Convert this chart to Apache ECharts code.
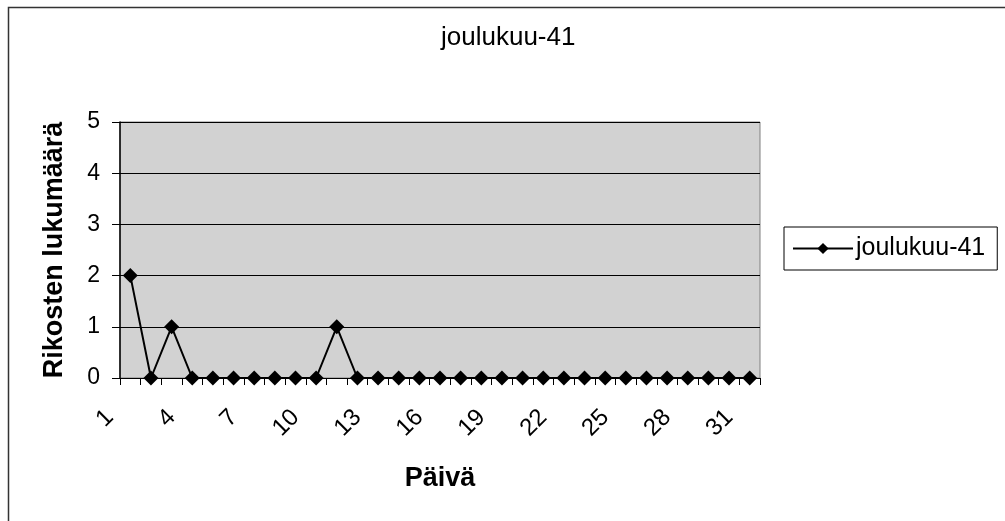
<!DOCTYPE html>
<html>
<head>
<meta charset="utf-8">
<script src="https://cdn.jsdelivr.net/npm/echarts@6/dist/echarts.min.js"></script>
<style>
html, body { margin: 0; padding: 0; background: #fff; }
#chart { width: 1005px; height: 521px; }
</style>
</head>
<body>
<div id="chart"></div>
<script>
// päivät 1..31
var days = ['1','2','3','4','5','6','7','8','9','10','11','12','13','14','15','16',
            '17','18','19','20','21','22','23','24','25','26','27','28','29','30','31'];
// rikosten lukumäärä per päivä
var counts = [2,0,1,0,0,0,0,0,0,0,1,0,0,0,0,0,0,0,0,0,0,0,0,0,0,0,0,0,0,0,0];
var seriesName = 'joulukuu-41';

var font = "'Liberation Sans', Arial, sans-serif";
var myChart = echarts.init(document.getElementById('chart'));

var option = {
    backgroundColor: '#fff',
    animation: false,
    title: {
        text: 'joulukuu-41',
        left: 441,
        top: 25,
        padding: 0,
        textStyle: { fontFamily: font, fontSize: 26, fontWeight: 'normal', color: '#000' }
    },
    graphic: [{
        type: 'rect',
        shape: { x: 8.5, y: 7.5, width: 1100, height: 600 },
        style: { fill: null, stroke: '#333', lineWidth: 1.5 },
        silent: true
    }],
    legend: {
        data: [seriesName],
        left: 784,
        top: 227,
        orient: 'vertical',
        padding: [9, 12, 9, 8],
        itemWidth: 60,
        itemHeight: 14,
        itemGap: 0,
        backgroundColor: '#fff',
        borderColor: '#000',
        borderWidth: 1,
        borderRadius: 0,
        textStyle: { fontFamily: font, fontSize: 25, color: '#000', padding: [0, 0, 0, -2] }
    },
    grid: {
        left: 120,
        right: 245,
        top: 122,
        bottom: 143,
        show: true,
        backgroundColor: '#d2d2d2',
        borderColor: '#808080',
        borderWidth: 1
    },
    xAxis: {
        type: 'category',
        data: days,
        boundaryGap: true,
        name: 'Päivä',
        nameLocation: 'middle',
        nameGap: 87,
        nameTextStyle: { fontFamily: font, fontSize: 27, fontWeight: 'bold', color: '#000' },
        axisLine: { lineStyle: { color: '#000', width: 1 } },
        axisTick: { show: true, interval: 0, length: 7, lineStyle: { color: '#000' } },
        axisLabel: {
            interval: 2,
            rotate: 45,
            margin: 15,
            padding: [0, 29, 0, 0],
            fontFamily: font,
            fontSize: 24,
            color: '#000'
        },
        splitLine: { show: false }
    },
    yAxis: {
        type: 'value',
        min: 0,
        max: 5,
        interval: 1,
        name: 'Rikosten lukumäärä',
        nameLocation: 'middle',
        nameGap: 52,
        nameTextStyle: { fontFamily: font, fontSize: 27, fontWeight: 'bold', color: '#000' },
        axisLine: { show: true, lineStyle: { color: '#000', width: 1.5 } },
        axisTick: { show: true, length: 8, lineStyle: { color: '#000' } },
        axisLabel: { margin: 20, fontFamily: font, fontSize: 23, color: '#000' },
        splitLine: { show: true, lineStyle: { color: '#000', width: 1 } }
    },
    series: [{
        name: seriesName,
        type: 'line',
        data: counts,
        symbol: 'diamond',
        symbolSize: 15,
        showAllSymbol: true,
        itemStyle: { color: '#000' },
        lineStyle: { color: '#000', width: 2 }
    }]
};
myChart.setOption(option);
</script>
</body>
</html>
